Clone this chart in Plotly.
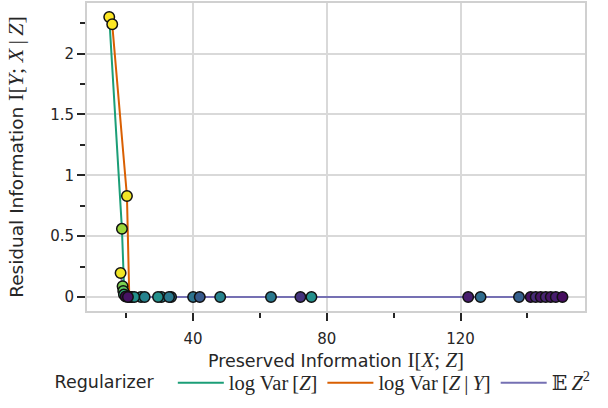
import plotly.graph_objects as go

# ---------------- data ----------------
series_names = ["log Var [Z]", "log Var [Z | Y]", "E Z^2"]
series_colors = ["#1b9e77", "#d95f02", "#7570b3"]

x_var_z = [14.9, 18.7, 19.4, 20.0, 21.6, 24.4, 30.5, 40.0, 48.1, 63.3, 75.4]
y_var_z = [2.30, 0.56, 0.03, 0.01, 0.0, 0.0, 0.0, 0.0, 0.0, 0.0, 0.0]
h_var_z = [1.0, 0.85, 0.72, 0.15, 0.5, 0.45, 0.45, 0.38, 0.45, 0.40, 0.50]

x_var_zy = [15.8, 20.2, 20.9, 21.3, 22.4, 25.5, 33.4, 42.0, 72.1]
y_var_zy = [2.24, 0.83, 0.0, 0.0, 0.0, 0.0, 0.0, 0.0, 0.0]
h_var_zy = [1.0, 0.98, 0.05, 0.1, 0.5, 0.45, 0.35, 0.28, 0.15]

x_ez2 = [18.3, 18.9, 19.1, 19.3, 19.8, 20.5, 29.5, 32.8, 122.3, 126.0, 137.5,
         141.0, 142.5, 144.0, 145.5, 147.0, 148.5, 150.5]
y_ez2 = [0.197, 0.088, 0.05, 0.02, 0.005, 0.0, 0.0, 0.0, 0.0, 0.0, 0.0,
         0.0, 0.0, 0.0, 0.0, 0.0, 0.0, 0.0]
h_ez2 = [0.98, 0.8, 0.75, 0.65, 0.02, 0.05, 0.5, 0.4, 0.08, 0.35, 0.3,
         0.05, 0.12, 0.05, 0.1, 0.05, 0.08, 0.03]

x_ticks = [40, 80, 120]
y_ticks = [0, 0.5, 1, 1.5, 2]
# --------------------------------------

SERIF = "Liberation Serif, DejaVu Serif, serif"
SANS = "DejaVu Sans, sans-serif"
TXT = "#262626"
TS = "\u2009"  # thin space


def m(s, size=21):
    return f'<span style="font-family:{SERIF};font-size:{size}px">{s}</span>'


legend_labels = [
    m(f"log Var{TS}[<i>Z</i>]", 20.5),
    m(f"log Var{TS}[<i>Z</i>{TS}|{TS}<i>Y</i>]", 20.5),
    m(f"𝔼{TS}<i>Z</i><sup>2</sup>", 20.5),
]

xs = [x_var_z, x_var_zy, x_ez2]
ys = [y_var_z, y_var_zy, y_ez2]
hs = [h_var_z, h_var_zy, h_ez2]

fig = go.Figure()
for xv, yv, col, lab in zip(xs, ys, series_colors, legend_labels):
    fig.add_trace(go.Scatter(x=xv, y=yv, mode="lines", name=lab,
                             line=dict(color=col, width=2), showlegend=True))
for xv, yv, hv in zip(xs, ys, hs):
    fig.add_trace(go.Scatter(x=xv, y=yv, mode="markers", showlegend=False,
                             marker=dict(size=10.5, color=hv, colorscale="Viridis",
                                         cmin=0, cmax=1,
                                         line=dict(color="#111111", width=1.5))))

axis_common = dict(
    showgrid=True, gridcolor="#d9d9d9", gridwidth=1.5,
    showline=True, mirror=True, linecolor="#d0d0d0", linewidth=2,
    ticks="outside", ticklen=8, tickwidth=2, tickcolor=TXT,
    zeroline=False, automargin=False,
    tickfont=dict(family=SANS, size=15, color=TXT),
)

fig.update_xaxes(
    range=[8.25, 157.25], tickvals=x_ticks, ticklabelstandoff=5,
    minor=dict(dtick=20, tick0=0, ticks="outside", ticklen=5, tickwidth=1.5,
               tickcolor=TXT, showgrid=False),
    title=dict(text="Preserved Information " + m("I[<i>X</i>; <i>Z</i>]"),
               font=dict(family=SANS, size=17.5, color=TXT), standoff=0),
    **axis_common,
)
fig.update_yaxes(
    range=[-0.115, 2.415], tickvals=y_ticks,
    minor=dict(dtick=0.25, tick0=0, ticks="outside", ticklen=5, tickwidth=1.5,
               tickcolor=TXT, showgrid=False),
    title=dict(text="Residual Information " + m(f"I[<i>Y</i>; <i>X</i>{TS}|{TS}<i>Z</i>]", 22),
               font=dict(family=SANS, size=18.5, color=TXT), standoff=22),
    **axis_common,
)

fig.update_layout(
    width=608, height=408,
    margin=dict(l=87, r=23, t=3, b=97),
    plot_bgcolor="white", paper_bgcolor="white",
    legend=dict(orientation="h", x=0.476, xanchor="center", y=-0.175, yanchor="top",
                title=dict(text="Regularizer  ", side="left",
                           font=dict(family=SANS, size=17.5, color=TXT)),
                font=dict(family=SANS, size=17.5, color=TXT),
                itemwidth=46, tracegroupgap=0,
                bgcolor="rgba(0,0,0,0)"),
)

fig.write_html("out.html", config={"displayModeBar": False},
               post_script="document.body.style.margin='0';")
